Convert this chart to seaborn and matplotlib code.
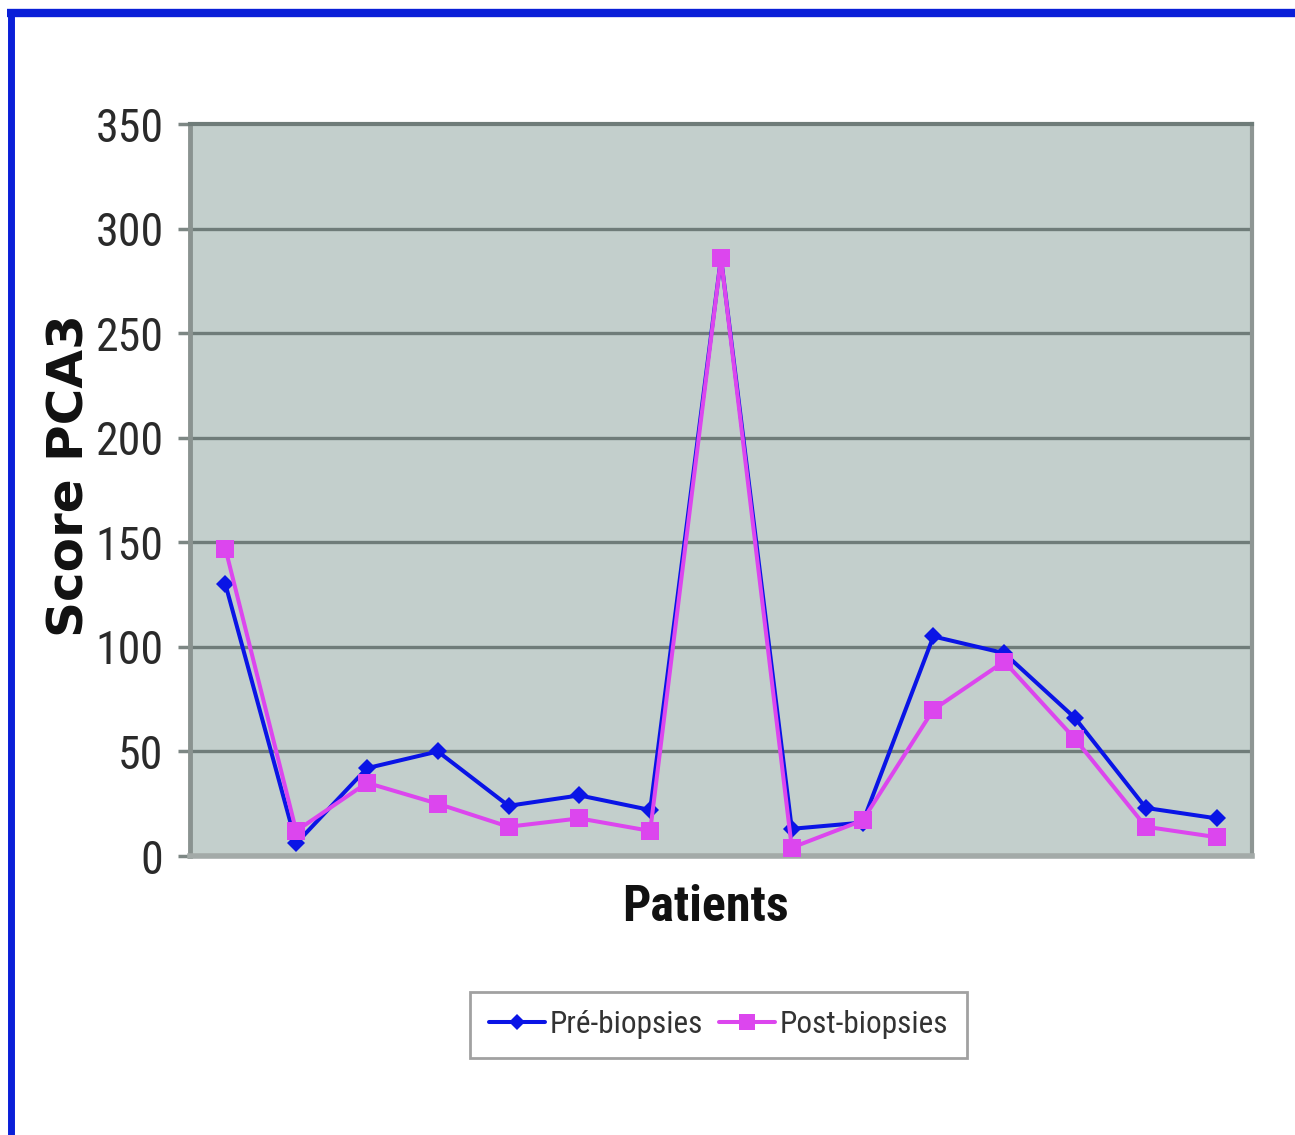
import numpy as np
import pandas as pd
import matplotlib
matplotlib.use("Agg")
import matplotlib.pyplot as plt
from matplotlib import font_manager
from matplotlib.lines import Line2D
import seaborn as sns

patients = list(range(1, 16))
pre_biopsies = [130, 6, 42, 50, 24, 29, 22, 286, 13, 16, 105, 97, 66, 23, 18]
post_biopsies = [147, 12, 35, 25, 14, 18, 12, 286, 4, 17, 70, 93, 56, 14, 9]
series_names = ["Pré-biopsies", "Post-biopsies"]
y_ticks = [0, 50, 100, 150, 200, 250, 300, 350]

df = pd.DataFrame({
    "Patient": patients * 2,
    "Score": pre_biopsies + post_biopsies,
    "Série": [series_names[0]] * 15 + [series_names[1]] * 15,
})

sns.set_theme(style="white")
names = {f.name for f in font_manager.fontManager.ttflist}
narrow = None
for cand in ["Liberation Sans Narrow", "Roboto Condensed", "Open Sans Condensed", "Liberation Sans"]:
    if cand in names:
        narrow = cand
        break
plt.rcParams["font.family"] = [narrow, "DejaVu Sans"]

fig = plt.figure(figsize=(12.95, 11.35), dpi=100)
fig.patch.set_facecolor("white")
ax = fig.add_axes([0.1467, 0.2458, 0.8201, 0.6449])
ax.set_facecolor("#c3cfcc")

palette = {series_names[0]: "#0a14e6", series_names[1]: "#dc46ee"}
markers = {series_names[0]: "D", series_names[1]: "s"}
sizes_m = {series_names[0]: 9, series_names[1]: 13}

for name in series_names:
    sub = df[df["Série"] == name]
    sns.lineplot(data=sub, x="Patient", y="Score", color=palette[name],
                 marker=markers[name], markersize=sizes_m[name],
                 markeredgewidth=0, linewidth=2.9, ax=ax, label=name,
                 zorder=3)

ax.set_xlim(0.5, 15.5)
ax.set_ylim(0, 350)
ax.set_yticks(y_ticks)
ax.set_yticklabels([str(t) for t in y_ticks], fontsize=33, color="#2a2a2a")
ax.set_xticks([])
for t in y_ticks[1:-1]:
    ax.axhline(t, color="#6f7c79", linewidth=2.4, zorder=1)

ax.tick_params(axis="y", which="both", left=True, length=9, width=2.5,
               color="#7d8784", pad=10)

for side, col, lw in [("left", "#8a9390", 3.5), ("top", "#6f7c79", 3.0),
                      ("right", "#8e9694", 3.0), ("bottom", "#a3aaa8", 4.0)]:
    ax.spines[side].set_visible(True)
    ax.spines[side].set_color(col)
    ax.spines[side].set_linewidth(lw)

ax.set_xlabel("Patients", fontsize=36, fontweight="bold", color="#111111")
ax.xaxis.set_label_coords(0.485, -0.071)
ax.xaxis.label.set_va("center")
ax.set_ylabel("Score PCA3", fontsize=36, fontweight="bold", color="#111111",
              family=["DejaVu Sans"])
ax.yaxis.set_label_coords(-0.113, 0.52)
ax.yaxis.label.set_va("center")

handles, labels = ax.get_legend_handles_labels()
ax.get_legend().remove()
leg = fig.legend(handles, labels, loc="center", bbox_to_anchor=(0.555, 0.097),
                 ncol=2, fontsize=22.5, frameon=True, fancybox=False,
                 handlelength=1.8, handletextpad=0.15, columnspacing=0.5,
                 borderpad=0.6, markerscale=0.9)
leg.get_frame().set_edgecolor("#8a8a8a")
leg.get_frame().set_linewidth(2)
for txt in leg.get_texts():
    txt.set_color("#333333")

# blue border (top and left)
fig.add_artist(Line2D([0.0055, 1.0], [0.9885, 0.9885], transform=fig.transFigure,
                      color="#0a1fd8", linewidth=6, solid_capstyle="butt"))
fig.add_artist(Line2D([0.0085, 0.0085], [0.0, 0.992], transform=fig.transFigure,
                      color="#0a1fd8", linewidth=5, solid_capstyle="butt"))

fig.savefig("out.png", dpi=100)
